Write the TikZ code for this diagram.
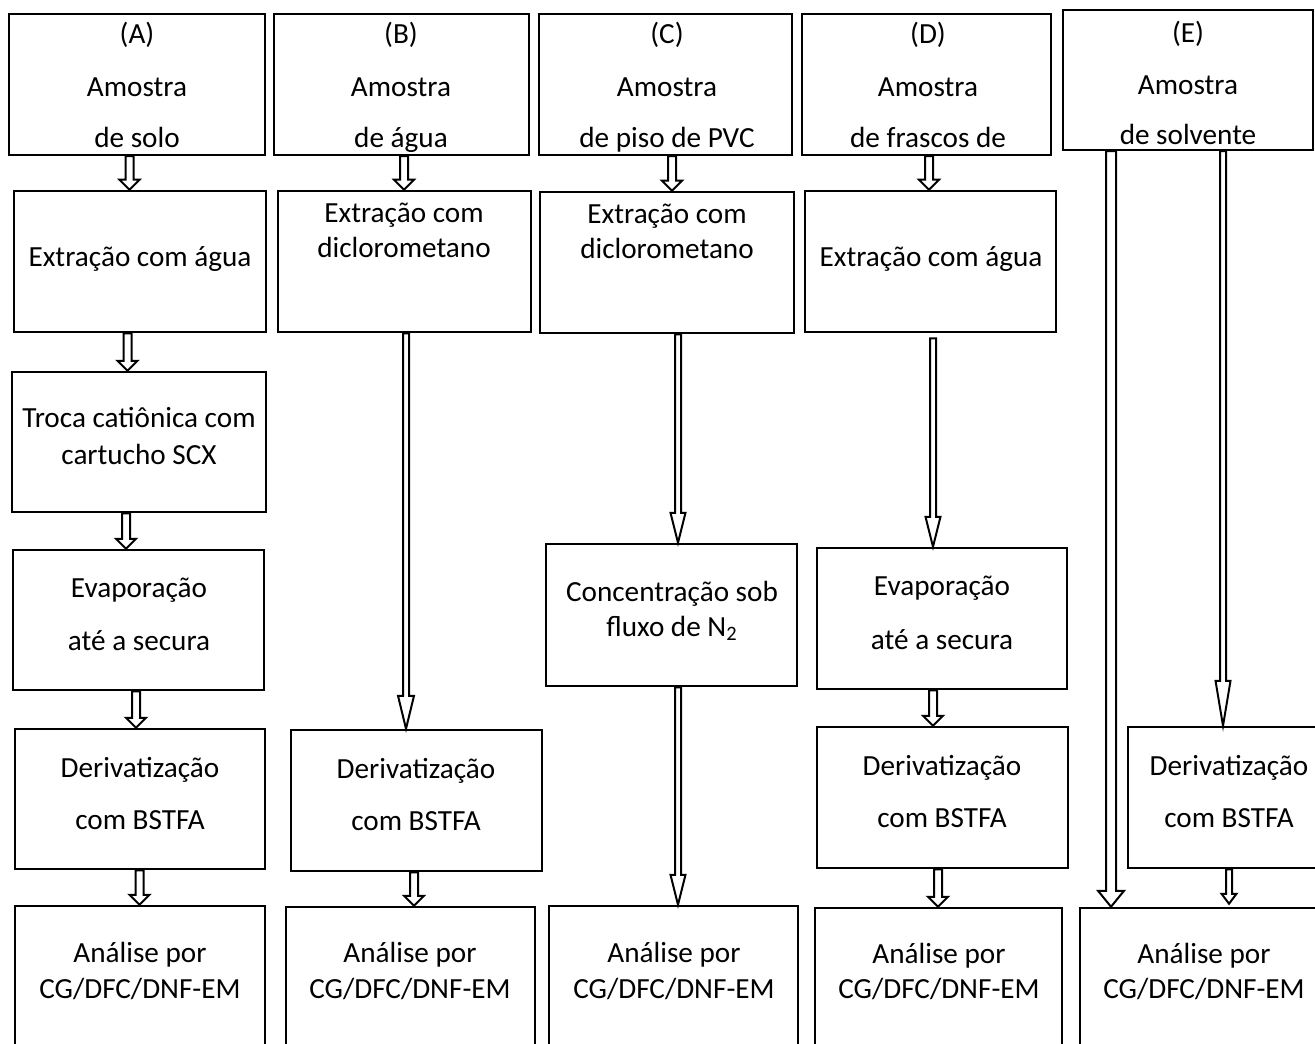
\documentclass[tikz,border=0pt]{standalone}
\usepackage{fontspec}
\setmainfont{Carlito}
\usetikzlibrary{calc,fit}
\tikzset{
  box/.style={draw=black, line width=1.25pt, inner sep=0pt, rectangle},
  txt/.style={anchor=base, inner sep=0pt, font=\fontsize{14.6pt}{17pt}\selectfont},
  arrline/.style={draw=black, line width=1pt, line join=miter},
}
% #1 x (px), #2 from node, #3 to node, #4 shaft half width, #5 head half width,
% #6 head length, #7 start offset (down), #8 tip offset (up)
\newcommand\blockarr[8]{%
  \draw[arrline] let \p0=(#1,0), \p1=(#2.south), \p2=(#3.north) in
    ({\x0-#4*0.5pt},{\y1-#7*0.5pt}) -- ({\x0-#4*0.5pt},{\y2+#8*0.5pt+#6*0.5pt})
    -- ({\x0-#5*0.5pt},{\y2+#8*0.5pt+#6*0.5pt}) -- ({\x0},{\y2+#8*0.5pt})
    -- ({\x0+#5*0.5pt},{\y2+#8*0.5pt+#6*0.5pt}) -- ({\x0+#4*0.5pt},{\y2+#8*0.5pt+#6*0.5pt})
    -- ({\x0+#4*0.5pt},{\y1-#7*0.5pt}) -- cycle;}
\newcommand\bx[5]{\node[box, fit={(#2,#3) (#4,#5)}] (#1) {};}
\begin{document}
\begin{tikzpicture}[x=0.5pt,y=-0.5pt]
\useasboundingbox (0,0) rectangle (1315,1043);
\clip (0,0) rectangle (1315,1043);
% ---------- boxes ----------
\bx{a1}{9}{14}{265}{155}
\bx{a2}{14}{191}{266}{332}
\bx{a3}{12}{372}{266}{512}
\bx{a4}{13}{550}{264}{690}
\bx{a5}{15}{729}{265}{869}
\bx{a6}{15}{906}{265}{1070}
\bx{b1}{274}{14}{529}{155}
\bx{b2}{278}{191}{531}{332}
\bx{b3}{291}{730}{542}{871}
\bx{b4}{286}{907}{535}{1070}
\bx{c1}{539}{14}{792}{155}
\bx{c2}{540}{192}{794}{333}
\bx{c3}{546}{544}{797}{686}
\bx{c4}{549}{906}{798}{1070}
\bx{d1}{802}{14}{1051}{155}
\bx{d2}{805}{191}{1056}{332}
\bx{d3}{817}{548}{1067}{689}
\bx{d4}{817}{727}{1068}{868}
\bx{d5}{815}{908}{1062}{1070}
\bx{e1}{1063}{10}{1313}{150}
\bx{e2}{1128}{727}{1340}{868}
\bx{e3}{1080}{908}{1340}{1070}
% ---------- texts ----------
\node[txt] (a1t1) at (137,44) {(A)};
\node[txt] (a1t2) at (137,97) {Amostra};
\node[txt] (a1t3) at (137,148) {de solo};
\node[txt] (a2t1) at (140,266) {Extração com água};
\node[txt] (a3t1) at (139,427) {Troca catiônica com};
\node[txt] (a3t2) at (139,464) {cartucho SCX};
\node[txt] (a4t1) at (139,597) {Evaporação};
\node[txt] (a4t2) at (139,650) {até a secura};
\node[txt] (a5t1) at (140,777) {Derivatização};
\node[txt] (a5t2) at (140,829) {com BSTFA};
\node[txt] (a6t1) at (140,962) {Análise por};
\node[txt] (a6t2) at (140,998) {CG/DFC/DNF-EM};
\node[txt] (b1t1) at (401,44) {(B)};
\node[txt] (b1t2) at (401,97) {Amostra};
\node[txt] (b1t3) at (401,148) {de água};
\node[txt] (b2t1) at (404,222) {Extração com};
\node[txt] (b2t2) at (404,257) {diclorometano};
\node[txt] (b3t1) at (416,778) {Derivatização};
\node[txt] (b3t2) at (416,830) {com BSTFA};
\node[txt] (b4t1) at (410,962) {Análise por};
\node[txt] (b4t2) at (410,998) {CG/DFC/DNF-EM};
\node[txt] (c1t1) at (667,44) {(C)};
\node[txt] (c1t2) at (667,97) {Amostra};
\node[txt] (c1t3) at (667,148) {de piso de PVC};
\node[txt] (c2t1) at (667,223) {Extração com};
\node[txt] (c2t2) at (667,258) {diclorometano};
\node[txt] (c3t1) at (672,601) {Concentração sob};
\node[txt] (c3t2) at (672,636) {fluxo de N\textsubscript{2}};
\node[txt] (c4t1) at (674,962) {Análise por};
\node[txt] (c4t2) at (674,998) {CG/DFC/DNF-EM};
\node[txt] (d1t1) at (928,44) {(D)};
\node[txt] (d1t2) at (928,97) {Amostra};
\node[txt] (d1t3) at (928,148) {de frascos de};
\node[txt] (d2t1) at (931,266) {Extração com água};
\node[txt] (d3t1) at (942,595) {Evaporação};
\node[txt] (d3t2) at (942,649) {até a secura};
\node[txt] (d4t1) at (942,775) {Derivatização};
\node[txt] (d4t2) at (942,827) {com BSTFA};
\node[txt] (d5t1) at (939,963) {Análise por};
\node[txt] (d5t2) at (939,998) {CG/DFC/DNF-EM};
\node[txt] (e1t1) at (1188,43) {(E)};
\node[txt] (e1t2) at (1188,95) {Amostra};
\node[txt] (e1t3) at (1188,145) {de solvente};
\node[txt] (e2t1) at (1229,775) {Derivatização};
\node[txt] (e2t2) at (1229,827) {com BSTFA};
\node[txt] (e3t1) at (1204,963) {Análise por};
\node[txt] (e3t2) at (1204,998) {CG/DFC/DNF-EM};
% ---------- arrows ----------
\blockarr{129.5}{a1}{a2}{4}{10}{10}{0}{0}
\blockarr{127.5}{a2}{a3}{4}{10}{10}{0}{0}
\blockarr{126}{a3}{a4}{4}{10}{10}{0}{0}
\blockarr{136}{a4}{a5}{4}{10}{10}{0}{0}
\blockarr{139.5}{a5}{a6}{4}{10}{10}{0}{0}
\blockarr{404}{b1}{b2}{4}{10}{10}{0}{0}
\blockarr{406}{b2}{b3}{3}{8}{33}{0}{0}
\blockarr{414}{b3}{b4}{4}{10}{10}{0}{0}
\blockarr{672}{c1}{c2}{4}{10}{10}{0}{0}
\blockarr{678}{c2}{c3}{3}{7.5}{30}{0}{0}
\blockarr{678}{c3}{c4}{3}{7.5}{30}{0}{0}
\blockarr{929}{d1}{d2}{4}{10}{10}{0}{0}
\blockarr{933}{d2}{d3}{3}{7.5}{30}{5}{0}
\blockarr{933}{d3}{d4}{4}{10}{10}{0}{0}
\blockarr{938}{d4}{d5}{4}{10}{10}{0}{0}
\blockarr{1111}{e1}{e3}{5}{13}{16}{0}{0}
\blockarr{1223}{e1}{e2}{3}{7.5}{45}{0}{0}
\blockarr{1229}{e2}{e3}{3}{7.5}{10}{0}{3}
\end{tikzpicture}
\end{document}
